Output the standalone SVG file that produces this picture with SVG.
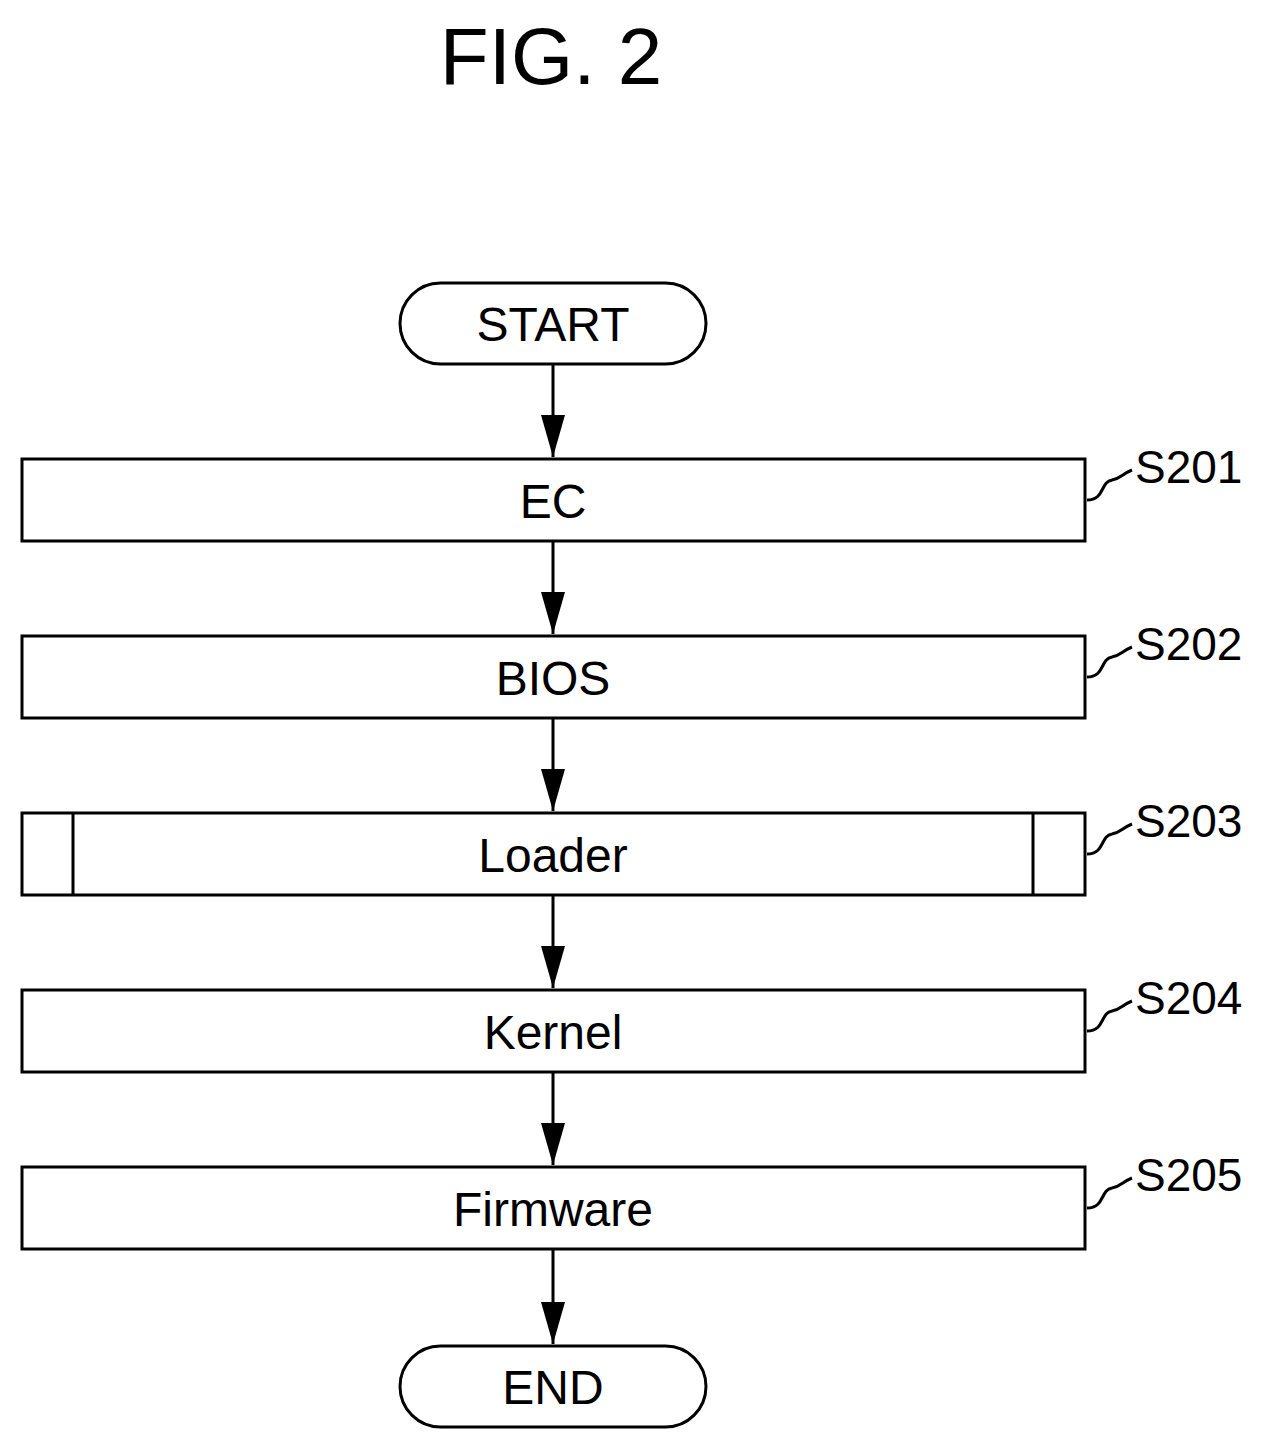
<svg xmlns="http://www.w3.org/2000/svg" width="1264" height="1447" viewBox="0 0 1264 1447">
<style>
.b{fill:#fff;stroke:#000;stroke-width:3}
.t{font-family:"Liberation Sans",Arial,sans-serif;font-size:48px;text-anchor:middle}
.s{font-family:"Liberation Sans",Arial,sans-serif;font-size:46px}
.c{stroke:#000;stroke-width:3;fill:none}
</style>
<defs>
<marker id="h" viewBox="0 0 24 42" refX="12" refY="42" markerWidth="24" markerHeight="42" markerUnits="userSpaceOnUse" orient="0"><path d="M0,0 L24,0 L12,42Z"/></marker></defs>
<rect width="1264" height="1447" fill="#fff"/>
<text x="551" y="84" style="font-family:'Liberation Sans',Arial,sans-serif;font-size:80px;text-anchor:middle">FIG. 2</text>
<g id="connectors">
<line class="c" x1="553" y1="364" x2="553" y2="457" marker-end="url(#h)"/>
<line class="c" x1="553" y1="541" x2="553" y2="634" marker-end="url(#h)"/>
<line class="c" x1="553" y1="718" x2="553" y2="811" marker-end="url(#h)"/>
<line class="c" x1="553" y1="895" x2="553" y2="988" marker-end="url(#h)"/>
<line class="c" x1="553" y1="1072" x2="553" y2="1165" marker-end="url(#h)"/>
<line class="c" x1="553" y1="1249" x2="553" y2="1344" marker-end="url(#h)"/>
</g>
<g id="start"><rect class="b" x="400" y="283" width="306" height="81" rx="40.5"/><text class="t" x="553" y="341">START</text></g>
<g id="s201"><rect class="b" x="22" y="459" width="1063" height="82"/><text class="t" x="553" y="518">EC</text>
<path class="c" d="M1087,500 C1105,500 1100,482 1112,480 C1122,478 1122,474 1132,470"/><text class="s" x="1135" y="483">S201</text></g>
<g id="s202"><rect class="b" x="22" y="636" width="1063" height="82"/><text class="t" x="553" y="695">BIOS</text>
<path class="c" d="M1087,677 C1105,677 1100,659 1112,657 C1122,655 1122,651 1132,647"/><text class="s" x="1135" y="660">S202</text></g>
<g id="s203"><rect class="b" x="22" y="813" width="1063" height="82"/><line class="c" x1="73" y1="813" x2="73" y2="895"/><line class="c" x1="1033" y1="813" x2="1033" y2="895"/><text class="t" x="553" y="872">Loader</text>
<path class="c" d="M1087,854 C1105,854 1100,836 1112,834 C1122,832 1122,828 1132,824"/><text class="s" x="1135" y="837">S203</text></g>
<g id="s204"><rect class="b" x="22" y="990" width="1063" height="82"/><text class="t" x="553" y="1049">Kernel</text>
<path class="c" d="M1087,1031 C1105,1031 1100,1013 1112,1011 C1122,1009 1122,1005 1132,1001"/><text class="s" x="1135" y="1014">S204</text></g>
<g id="s205"><rect class="b" x="22" y="1167" width="1063" height="82"/><text class="t" x="553" y="1226">Firmware</text>
<path class="c" d="M1087,1208 C1105,1208 1100,1190 1112,1188 C1122,1186 1122,1182 1132,1178"/><text class="s" x="1135" y="1191">S205</text></g>
<g id="end"><rect class="b" x="400" y="1346" width="306" height="81" rx="40.5"/><text class="t" x="553" y="1404">END</text></g>
</svg>
